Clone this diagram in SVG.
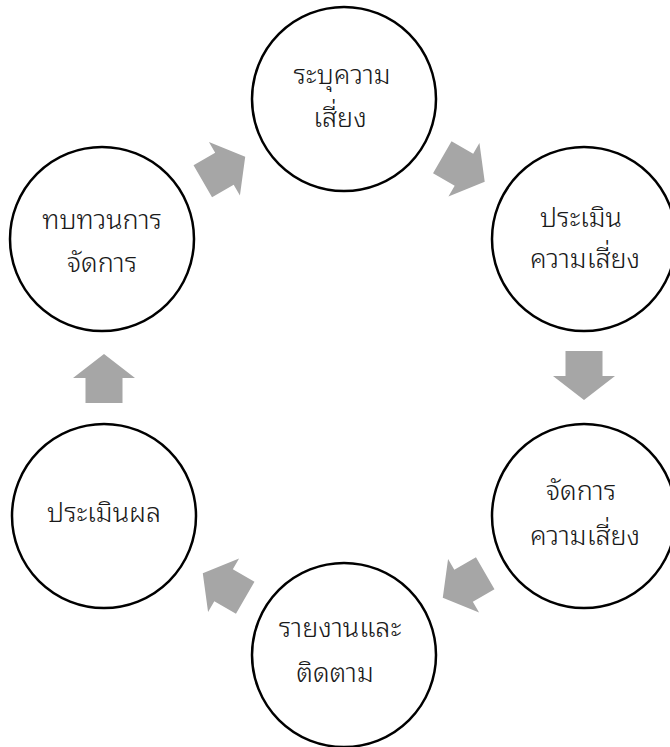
<svg xmlns="http://www.w3.org/2000/svg" xmlns:xlink="http://www.w3.org/1999/xlink" width="670" height="747" viewBox="0 0 670 747">
<style>
.node circle{fill:#ffffff;stroke:#000000;stroke-width:2.5}
.node text{font-family:"Noto Sans Thai Looped","Noto Sans Thai","Noto Sans","Tahoma","DejaVu Sans",sans-serif;font-size:27px;font-weight:300;fill:#1a1a1a;text-anchor:middle}
.arrow{fill:#a6a6a6}
</style>
<defs>
<path id="blk" d="M-24.5,-18.5 H0.5 V-31 L24.5,0 L0.5,31 V18.5 H-24.5 Z"/>
</defs>
<rect width="670" height="747" fill="#ffffff"/>
<g id="connectors">
<use xlink:href="#blk" href="#blk" class="arrow" transform="translate(463.5,169.5) rotate(30)"/>
<use xlink:href="#blk" href="#blk" class="arrow" transform="translate(584,375.5) rotate(90)"/>
<use xlink:href="#blk" href="#blk" class="arrow" transform="translate(464,585.5) rotate(150)"/>
<use xlink:href="#blk" href="#blk" class="arrow" transform="translate(224,585.5) rotate(210)"/>
<use xlink:href="#blk" href="#blk" class="arrow" transform="translate(104,378.5) rotate(270)"/>
<use xlink:href="#blk" href="#blk" class="arrow" transform="translate(224,169) rotate(-30)"/>
</g>
<g id="node-identify" class="node">
<circle cx="344" cy="99" r="92"/>
<text x="342" y="84">ระบุความ</text>
<text x="340" y="127">เสี่ยง</text>
</g>
<g id="node-assess" class="node">
<circle cx="584" cy="239" r="92"/>
<text x="581" y="227">ประเมิน</text>
<text x="585" y="268">ความเสี่ยง</text>
</g>
<g id="node-manage" class="node">
<circle cx="584" cy="516" r="92"/>
<text x="581" y="500">จัดการ</text>
<text x="585" y="545">ความเสี่ยง</text>
</g>
<g id="node-report" class="node">
<circle cx="344" cy="655" r="92"/>
<text x="340" y="637">รายงานและ</text>
<text x="335" y="682">ติดตาม</text>
</g>
<g id="node-evaluate" class="node">
<circle cx="104" cy="516" r="92"/>
<text x="104" y="522">ประเมินผล</text>
</g>
<g id="node-review" class="node">
<circle cx="102" cy="239" r="92"/>
<text x="102" y="229">ทบทวนการ</text>
<text x="102" y="272">จัดการ</text>
</g>
</svg>
